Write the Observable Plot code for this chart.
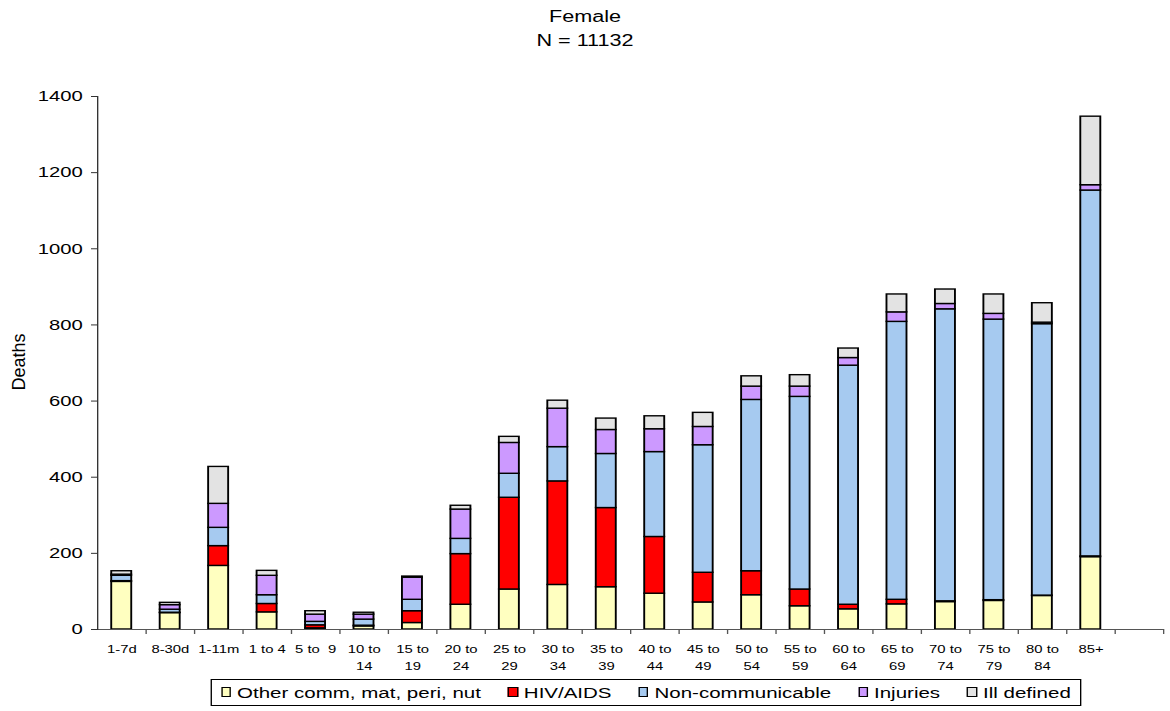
<!DOCTYPE html>
<html><head><meta charset="utf-8">
<script src="https://cdn.jsdelivr.net/npm/d3@7"></script>
<script src="https://cdn.jsdelivr.net/npm/@observablehq/plot@0.6"></script>
<style>
body{margin:0;background:#fff;font-family:"Liberation Sans",Arial,sans-serif;color:#000;position:relative;}
#wrap{width:866.667px;transform:scaleX(1.35);transform-origin:0 0;}
#title{height:60px;box-sizing:border-box;padding-top:5px;text-align:center;font-size:16px;line-height:24px;}
#chart svg{display:block;}
#legend{margin:9px 0 0 155.56px;width:645.93px;height:27px;box-sizing:border-box;border:1px solid #000;display:flex;align-items:center;justify-content:center;font-size:15.2px;white-space:nowrap;}
.item{display:flex;align-items:center;margin:0 10px;}
.sw{width:5.4px;height:8px;border:1px solid #000;margin-right:4.4px;}
#ytitle{position:absolute;left:18.5px;top:362px;transform:translate(-50%,-50%) rotate(-90deg);font-size:18px;line-height:18px;white-space:nowrap;}
</style></head><body>
<div id="wrap"><div id="title">Female<br>N = 11132</div><div id="chart"></div><div id="legend"></div></div>
<div id="ytitle">Deaths</div>
<script>
const S = 1.35;
const ages = ["1-7d","8-30d","1-11m","1 to 4","5 to 9","10 to 14","15 to 19","20 to 24","25 to 29","30 to 34","35 to 39","40 to 44","45 to 49","50 to 54","55 to 59","60 to 64","65 to 69","70 to 74","75 to 79","80 to 84","85+"];
const ageLabels = ["1-7d","8-30d","1-11m","1 to 4","5 to\u00a0\u00a09","10 to\n14","15 to\n19","20 to\n24","25 to\n29","30 to\n34","35 to\n39","40 to\n44","45 to\n49","50 to\n54","55 to\n59","60 to\n64","65 to\n69","70 to\n74","75 to\n79","80 to\n84","85+"];
const causes = ["Other comm, mat, peri, nut","HIV/AIDS","Non-communicable","Injuries","Ill defined"];
const colors = ["#FFFFC0","#FF0000","#A6CAF0","#CC99FF","#E3E3E3"];
const otherComm = [125,43,167,45,3,8,17,65,105,117,111,94,71,90,61,53,66,72,75,88,190];
const hivAids   = [2,1,52,22,8,2,31,133,241,272,208,149,78,63,44,12,12,2,2,1,2];
const nonComm   = [14,8,48,23,9,16,30,40,63,90,142,223,335,450,506,628,730,767,737,713,961];
const injuries  = [3,12,63,51,19,13,58,77,81,101,63,60,48,35,27,20,25,14,15,4,14];
const illDef    = [9,6,97,13,9,5,3,10,16,21,30,34,37,27,30,25,47,38,51,51,180];
const yTicks = [0,200,400,600,800,1000,1200,1400];

const series = [otherComm, hivAids, nonComm, injuries, illDef];
const data = ages.flatMap((a,i)=>causes.map((c,j)=>({age:a, cause:c, value:series[j][i]})));
const domainX = [...ages, "(blank)"];
const labelOf = new Map(ages.map((a,i)=>[a, ageLabels[i]]));

const W = 1170/S, ML = 97/S, MR = 7/S;
const step = (W - ML - MR)/domainX.length;

const chart = Plot.plot({
  width: W, height: 610,
  marginLeft: ML, marginRight: MR, marginTop: 36, marginBottom: 41,
  style: {fontFamily: "Liberation Sans, Arial, sans-serif", background: "#fff", color: "#000", overflow: "visible"},
  x: {domain: domainX, paddingInner: 0.587, paddingOuter: 0.2935, round: false, label: null},
  y: {domain: [0,1400], label: null},
  color: {domain: causes, range: colors},
  marks: [
    Plot.barY(data, {x: "age", y: "value", fill: "cause", order: causes, stroke: "#000", strokeWidth: 1.4}),
    Plot.ruleY([0], {stroke: "#555", strokeWidth: 1}),
    Plot.frame({anchor: "left", stroke: "#333"}),
    Plot.ruleX(domainX, {x: d => d, y1: 0, y2: 0, insetBottom: -5, dx: step/2, stroke: "#555"}),
    Plot.axisX({tickSize: 0, tickPadding: 12, fontSize: 11, lineHeight: 1.5, tickFormat: d => labelOf.get(d) ?? ""}),
    Plot.axisY({ticks: yTicks, tickSize: 6/S, tickPadding: 9/S, fontSize: 15, tickFormat: d3.format("d"), stroke: "#333"})
  ]
});
document.getElementById("chart").append(chart);

const legend = document.getElementById("legend");
causes.forEach((c,i)=>{
  const it = document.createElement("div"); it.className = "item";
  const sw = document.createElement("div"); sw.className = "sw"; sw.style.background = colors[i];
  const tx = document.createElement("span"); tx.textContent = c;
  it.append(sw, tx); legend.append(it);
});
</script>
</body></html>
